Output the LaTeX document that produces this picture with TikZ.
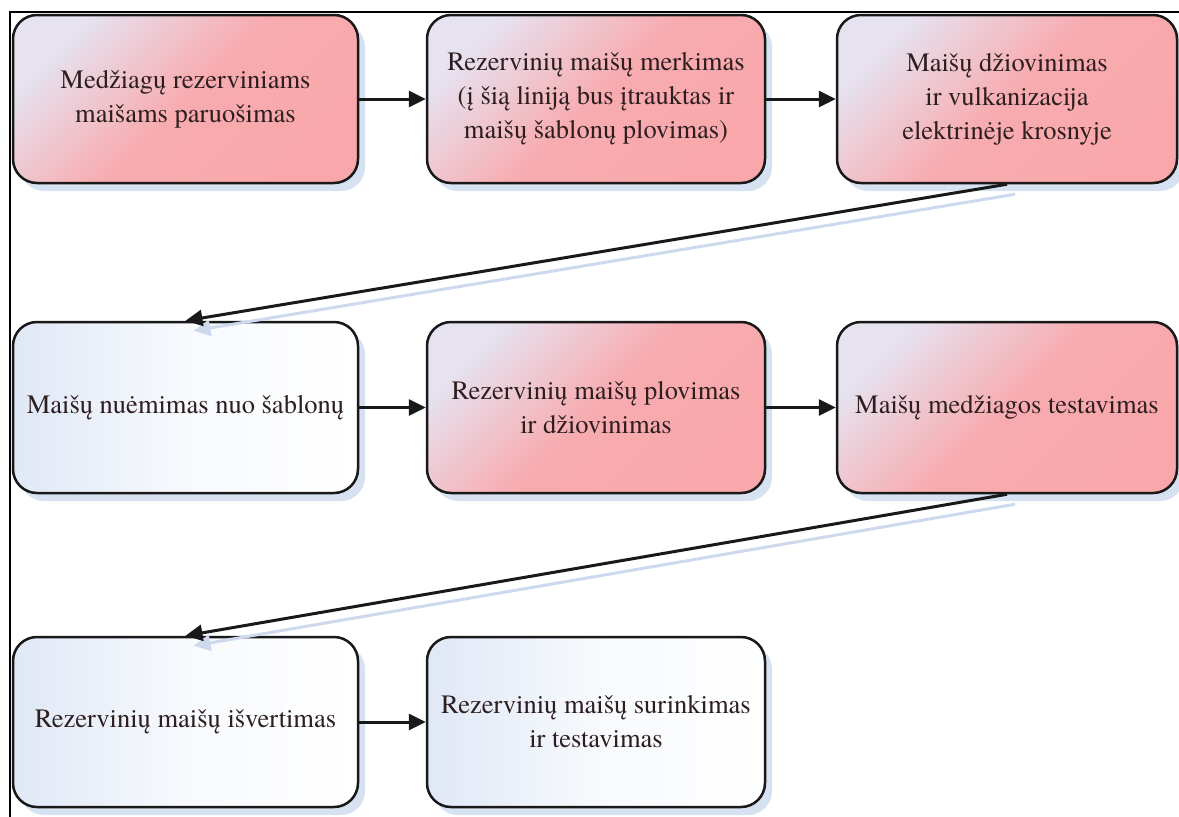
\documentclass[tikz,border=0pt]{standalone}
\usepackage{fontspec}
\setmainfont{Liberation Serif}
\newfontfamily\boxfont{texgyretermes}[Extension=.otf, UprightFont=*-regular, BoldFont=*-bold]
\usetikzlibrary{arrows.meta,shadows}
\definecolor{pinkA}{RGB}{230,226,240}
\definecolor{pinkB}{RGB}{249,167,170}
\definecolor{blueA}{RGB}{224,232,246}
\definecolor{shadowc}{RGB}{214,225,241}
\definecolor{shadowl}{RGB}{205,218,238}
\definecolor{txt}{RGB}{45,30,32}
\tikzset{
  box/.style={draw=black!90, line width=2.5pt, rounded corners=24pt,
    align=center, font=\boxfont\fontsize{26.5}{34}\selectfont, text=txt, inner sep=0pt,
    drop shadow={shadow xshift=7pt, shadow yshift=-8pt, fill=shadowc, draw=none, opacity=1}},
  redbox/.style={box, top color=pinkA, bottom color=pinkB, middle color=pinkB!92!pinkA, shading angle=45},
  whitebox/.style={box, left color=blueA, right color=white, middle color=white!75!blueA},
  conn/.style={line width=3pt, black!90, -{Triangle[length=17pt,width=16pt]}},
  connshadow/.style={line width=3pt, shadowl, -{Triangle[length=17pt,width=16pt]}},
  frameline/.style={line width=2pt, black}
}
\begin{document}
\begin{tikzpicture}[x=1pt,y=-1pt]
\useasboundingbox (0,0) rectangle (1179,817);
\draw[frameline] (10,817) -- (10,12) -- (1179,12);

% nodes
\node[redbox, minimum width=345pt, minimum height=168pt] (b1) at (185.5,99) {Medžiagų rezerviniams\\maišams paruošimas};
\node[redbox, minimum width=338pt, minimum height=168pt] (b2) at (596,99) {Rezervinių maišų merkimas\\(į šią liniją bus įtrauktas ir\\maišų šablonų plovimas)};
\node[redbox, minimum width=340pt, minimum height=168pt] (b3) at (1007,99) {Maišų džiovinimas\\ir vulkanizacija\\elektrinėje krosnyje};
\node[whitebox, minimum width=345pt, minimum height=171pt] (b4) at (185.5,407.5) {Maišų nuėmimas nuo šablonų};
\node[redbox, minimum width=338pt, minimum height=171pt] (b5) at (596,407.5) {Rezervinių maišų plovimas\\ir džiovinimas};
\node[redbox, minimum width=340pt, minimum height=171pt] (b6) at (1007,407.5) {Maišų medžiagos testavimas};
\node[whitebox, minimum width=345pt, minimum height=170pt] (b7) at (185.5,722) {Rezervinių maišų išvertimas};
\node[whitebox, minimum width=338pt, minimum height=170pt] (b8) at (596,722) {Rezervinių maišų surinkimas\\ir testavimas};

% connector shadows
\draw[connshadow] ([shift={(8,10)}]b3.south) -- ([shift={(8,10)}]b4.north);
\draw[connshadow] ([shift={(8,10)}]b6.south) -- ([shift={(8,10)}]b7.north);

% connectors
\draw[conn] (b1.east) -- (b2.west);
\draw[conn] (b2.east) -- (b3.west);
\draw[conn] (b3.south) -- (b4.north);
\draw[conn] (b4.east) -- (b5.west);
\draw[conn] (b5.east) -- (b6.west);
\draw[conn] (b6.south) -- (b7.north);
\draw[conn] (b7.east) -- (b8.west);
\end{tikzpicture}
\end{document}
